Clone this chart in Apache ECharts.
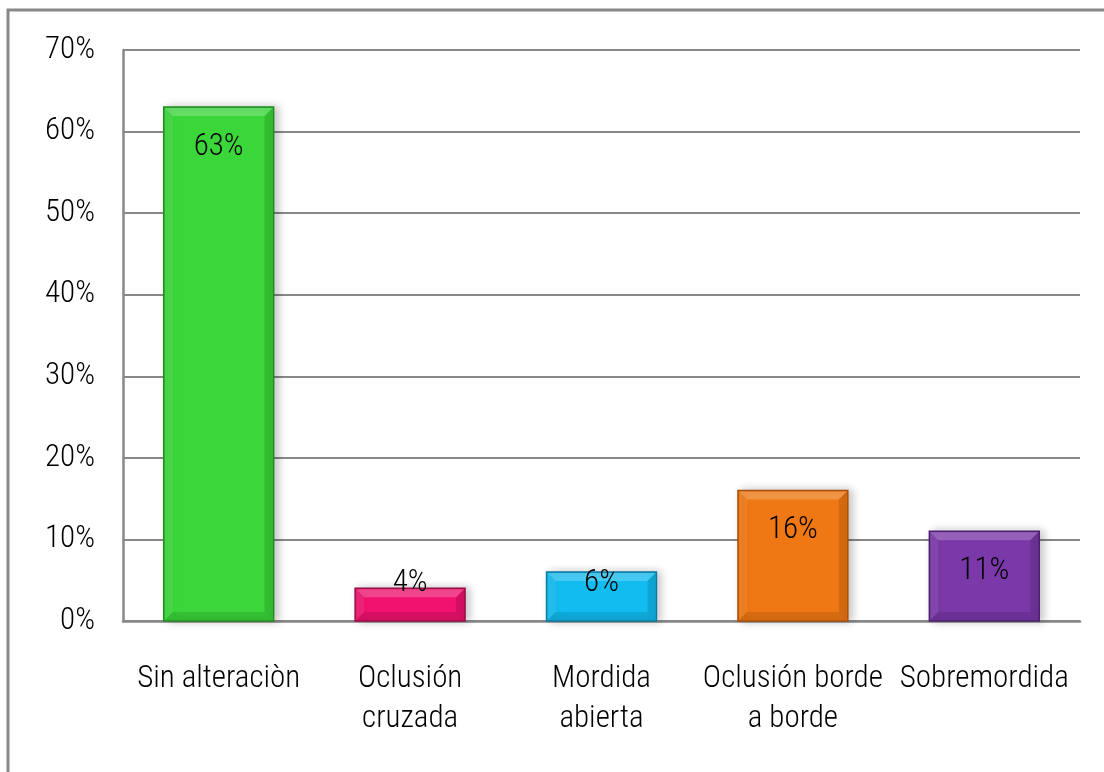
<!DOCTYPE html>
<html>
<head>
<meta charset="utf-8">
<script src="https://cdn.jsdelivr.net/npm/echarts@6/dist/echarts.min.js"></script>
<style>
  html, body { margin: 0; padding: 0; background: #fff; }
  #chart { width: 1104px; height: 772px; }
</style>
</head>
<body>
<div id="chart"></div>
<script>
// Categories and their percentages
const categories = ['Sin alteraciòn', 'Oclusión\ncruzada', 'Mordida\nabierta', 'Oclusión borde\na borde', 'Sobremordida'];
const values = [63, 4, 6, 16, 11];
const barColors = ['#3ad63a', '#f0126e', '#12bcf0', '#f07814', '#7a38a8'];
const darkColors = ['#1f8a1f', '#9a0a45', '#0a7aa0', '#a84e08', '#4a1f6e'];
const yTicks = [0, 10, 20, 30, 40, 50, 60, 70];

const FONT = "'Roboto Condensed', 'Liberation Sans', sans-serif";
const FONT_SIZE = 31;
const FONT_WEIGHT = 300;

const chart = echarts.init(document.getElementById('chart'));

// Bevelled bar drawn from the axis coordinates of each value
function renderBar(params, api) {
  const i = api.value(0);
  const v = api.value(1);
  const top = api.coord([i, v]);
  const base = api.coord([i, 0]);
  const w = api.size([1, 0])[0] * 0.574;
  const x0 = top[0] - w / 2, x1 = x0 + w;
  const y0 = top[1], y1 = base[1];
  const h = y1 - y0;
  const b = Math.min(9, h / 3);
  const c = barColors[i];
  const d = darkColors[i];
  const labelY = Math.min(y0 + 40, y1 - 38);
  return {
    type: 'group',
    children: [
      {
        type: 'rect',
        shape: { x: x0, y: y0, width: w, height: h },
        style: { fill: c, stroke: d, lineWidth: 1.5,
                 shadowBlur: 8, shadowOffsetX: 4, shadowOffsetY: 0, shadowColor: 'rgba(0,0,0,0.22)' }
      },
      {
        type: 'polygon',
        shape: { points: [[x0 + 1, y0 + 1], [x1 - 1, y0 + 1], [x1 - b, y0 + b], [x0 + b, y0 + b]] },
        style: { fill: 'rgba(255,255,255,0.22)' }
      },
      {
        type: 'polygon',
        shape: { points: [[x0 + 1, y0 + 1], [x0 + b, y0 + b], [x0 + b, y1 - b], [x0 + 1, y1 - 1]] },
        style: { fill: 'rgba(255,255,255,0.08)' }
      },
      {
        type: 'polygon',
        shape: { points: [[x1 - 1, y0 + 1], [x1 - 1, y1 - 1], [x1 - b, y1 - b], [x1 - b, y0 + b]] },
        style: { fill: 'rgba(0,0,0,0.12)' }
      },
      {
        type: 'polygon',
        shape: { points: [[x0 + 1, y1 - 1], [x1 - 1, y1 - 1], [x1 - b, y1 - b], [x0 + b, y1 - b]] },
        style: { fill: 'rgba(0,0,0,0.10)' }
      },
      {
        type: 'text',
        style: {
          x: top[0], y: labelY,
          text: v + '%',
          fill: '#000',
          font: FONT_WEIGHT + ' ' + FONT_SIZE + 'px ' + FONT,
          align: 'center', verticalAlign: 'middle'
        }
      }
    ]
  };
}

chart.setOption({
  animation: false,
  backgroundColor: '#fff',
  graphic: [{
    type: 'rect',
    shape: { x: 8, y: 10, width: 1300, height: 1000 },
    style: { fill: 'none', stroke: '#888', lineWidth: 3 },
    silent: true
  }],
  grid: { left: 123, right: 24, top: 50, bottom: 151 },
  xAxis: {
    type: 'category',
    data: categories,
    axisLine: { show: true, lineStyle: { color: '#888', width: 2.5 } },
    axisTick: { show: false },
    axisLabel: {
      interval: 0, color: '#000', fontSize: FONT_SIZE, fontWeight: FONT_WEIGHT, lineHeight: 40,
      fontFamily: FONT, margin: 38, align: 'center'
    }
  },
  yAxis: {
    type: 'value',
    min: yTicks[0],
    max: yTicks[yTicks.length - 1],
    interval: yTicks[1] - yTicks[0],
    axisLine: { show: true, lineStyle: { color: '#888', width: 2.5 } },
    axisTick: { show: false },
    axisLabel: {
      formatter: '{value}%', color: '#000', fontSize: FONT_SIZE, fontWeight: FONT_WEIGHT,
      fontFamily: FONT, margin: 28
    },
    splitLine: { show: true, lineStyle: { color: '#888', width: 2 } }
  },
  series: [{
    type: 'custom',
    renderItem: renderBar,
    data: values.map((v, i) => [i, v]),
    encode: { x: 0, y: 1 },
    z: 3
  }]
});
</script>
</body>
</html>
